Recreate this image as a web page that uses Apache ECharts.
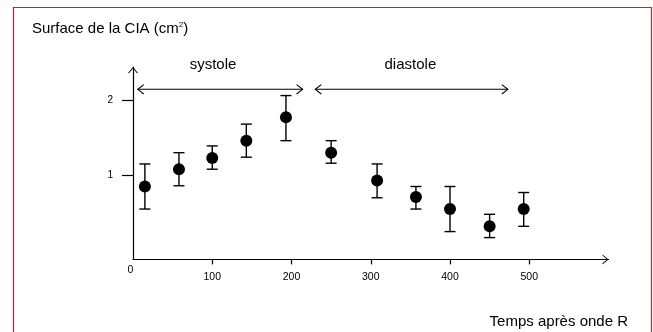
<!DOCTYPE html>
<html>
<head>
<meta charset="utf-8">
<script src="https://cdn.jsdelivr.net/npm/echarts@6/dist/echarts.min.js"></script>
<style>
html,body{margin:0;padding:0;background:#fff;}
#chart{width:653px;height:332px;position:relative;}
</style>
</head>
<body>
<div id="chart"></div>
<script>
// ---- data ----
const times = [15, 58, 100, 143, 193, 250, 308, 357, 400, 450, 493];
const means = [0.85, 1.08, 1.23, 1.46, 1.77, 1.30, 0.93, 0.71, 0.55, 0.32, 0.55];
const lows  = [0.55, 0.86, 1.08, 1.24, 1.46, 1.16, 0.70, 0.55, 0.25, 0.17, 0.32];
const highs = [1.15, 1.30, 1.39, 1.68, 2.06, 1.46, 1.15, 0.85, 0.85, 0.48, 0.77];
const xTickValues = [100, 200, 300, 400, 500];
const xLabelValues = [0, 100, 200, 300, 400, 500];
const yTickValues = [1, 2];
const phaseNames = ['systole', 'diastole'];
const phaseStart = [6, 230];
const phaseEnd = [214, 473];
const phaseLabelX = [101, 350];
const phaseLevel = [2.143, 2.143];
const yTitle = 'Surface de la CIA (cm{sup|2})';
const xTitle = 'Temps après onde R';

const chevron = 'path://M0,6 L5,0 L10,6 L8.8,6 L5,1.5 L1.2,6 Z';
const ink = '#000000';
const frameColor = '#cc1f2b';
const font = 'Liberation Sans, Arial, Helvetica, sans-serif';

const chart = echarts.init(document.getElementById('chart'), null, {renderer: 'canvas'});

const option = {
  animation: false,
  backgroundColor: '#ffffff',
  textStyle: {fontFamily: font},
  graphic: [{
    type: 'rect', x: 13.5, y: 7.5, silent: true, z: 100,
    shape: {x: 0, y: 0, width: 638, height: 340},
    style: {fill: null, stroke: frameColor, lineWidth: 1.2}
  }],
  title: [{
    text: yTitle, left: 32, top: 21, padding: 0,
    textStyle: {fontSize: 15, fontWeight: 'normal', color: ink, fontFamily: font,
      rich: {sup: {fontSize: 8, verticalAlign: 'top', color: ink, fontFamily: font}}}
  }, {
    text: xTitle, right: 25, top: 314, padding: 0,
    textStyle: {fontSize: 15, fontWeight: 'normal', color: ink, fontFamily: font}
  }],
  grid: {left: 133, top: 67, width: 475.5, height: 192.4, containLabel: false},
  xAxis: {
    type: 'value', min: 0, max: 600,
    splitLine: {show: false},
    axisLine: {onZero: false, lineStyle: {color: ink, width: 1.2},
      symbol: ['none', chevron], symbolSize: [10, 6], symbolOffset: [0, -3]},
    axisTick: {show: true, length: 5, inside: false, customValues: xTickValues, lineStyle: {color: ink, width: 1.2}},
    axisLabel: {
      customValues: xLabelValues, margin: 5, color: ink, fontSize: 10.5, fontFamily: font,
      formatter: v => v === 0 ? '{z|0}' : '{n|' + v + '}',
      rich: {z: {padding: [0, 5, 0, 0], fontSize: 10.5}, n: {padding: [7, 0, 0, 0], fontSize: 10.5}}
    }
  },
  yAxis: {
    type: 'value', min: -0.12, max: 2.44,
    splitLine: {show: false},
    axisLine: {show: true, onZero: false, lineStyle: {color: ink, width: 1.2},
      symbol: ['none', chevron], symbolSize: [10, 6], symbolOffset: [0, -3]},
    axisTick: {show: true, length: 11, inside: false, customValues: yTickValues, lineStyle: {color: ink, width: 1.2}},
    axisLabel: {customValues: yTickValues, margin: 20, color: ink, fontSize: 10, fontFamily: font}
  },
  series: [{
    type: 'custom',
    name: 'err',
    clip: false,
    data: times.map((t, i) => [t, lows[i], highs[i]]),
    encode: {x: 0, y: [1, 2]},
    renderItem: function (params, api) {
      const x = api.value(0);
      const pLo = api.coord([x, api.value(1)]);
      const pHi = api.coord([x, api.value(2)]);
      const hw = 5.5;
      const st = {stroke: ink, lineWidth: 1.4, fill: null};
      return {type: 'group', children: [
        {type: 'line', shape: {x1: pLo[0], y1: pLo[1], x2: pHi[0], y2: pHi[1]}, style: st},
        {type: 'line', shape: {x1: pLo[0] - hw, y1: pLo[1], x2: pLo[0] + hw, y2: pLo[1]}, style: st},
        {type: 'line', shape: {x1: pHi[0] - hw, y1: pHi[1], x2: pHi[0] + hw, y2: pHi[1]}, style: st}
      ]};
    },
    z: 2
  }, {
    type: 'scatter',
    name: 'mean',
    data: times.map((t, i) => [t, means[i]]),
    symbol: 'circle',
    symbolSize: 12,
    itemStyle: {color: '#000000', opacity: 1},
    emphasis: {disabled: true},
    z: 3
  }, {
    type: 'custom',
    name: 'phases',
    clip: false,
    data: phaseNames.map((n, i) => [phaseStart[i], phaseEnd[i], phaseLevel[i], phaseLabelX[i]]),
    encode: {x: [0, 1], y: 2},
    renderItem: function (params, api) {
      const i = params.dataIndex;
      const y = api.value(2);
      const p1 = api.coord([api.value(0), y]);
      const p2 = api.coord([api.value(1), y]);
      const pt = api.coord([api.value(3), y]);
      const st = {stroke: ink, lineWidth: 1.1, fill: null};
      const al = 6, ah = 4.7;
      return {type: 'group', children: [
        {type: 'line', shape: {x1: p1[0], y1: p1[1], x2: p2[0], y2: p2[1]}, style: st},
        {type: 'polyline', shape: {points: [[p1[0] + al, p1[1] - ah], [p1[0], p1[1]], [p1[0] + al, p1[1] + ah]]}, style: st},
        {type: 'polyline', shape: {points: [[p2[0] - al, p2[1] - ah], [p2[0], p2[1]], [p2[0] - al, p2[1] + ah]]}, style: st},
        {type: 'text', x: pt[0], y: pt[1] - 24,
          style: {text: phaseNames[i], fontSize: 15, fontFamily: font, fill: ink, align: 'center', verticalAlign: 'middle'}}
      ]};
    },
    z: 2
  }]
};
chart.setOption(option);
</script>
</body>
</html>
